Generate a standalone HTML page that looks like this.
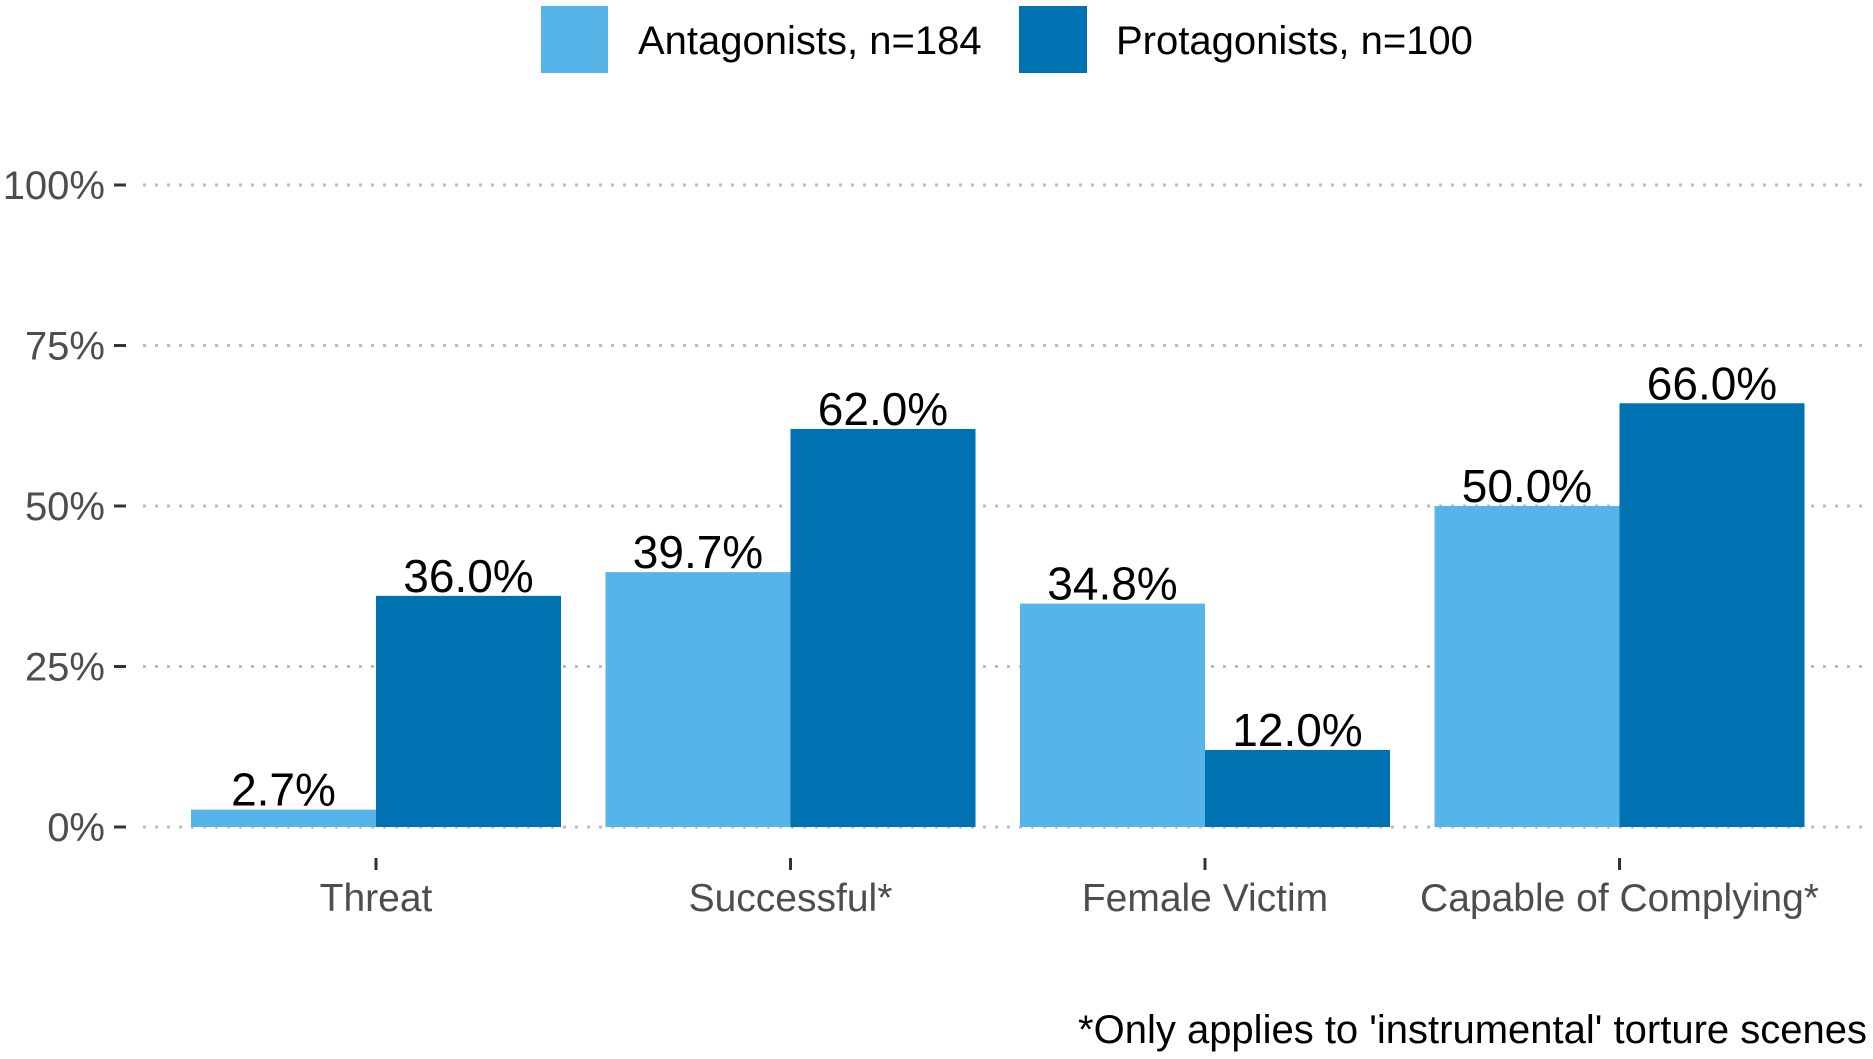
<!DOCTYPE html>
<html><head><meta charset="utf-8"><style>
html,body{margin:0;padding:0;background:#fff;}
svg{display:block;font-family:"Liberation Sans",sans-serif;}
</style></head><body>
<svg id="chart" width="1873" height="1059" viewBox="0 0 1873 1059">
<g>
<rect x="541" y="6" width="67" height="67" fill="#56B4E9"/>
<text x="638" y="54" font-size="40" fill="#000">Antagonists, n=184</text>
<rect x="1019" y="6" width="68" height="67" fill="#0072B2"/>
<text x="1116" y="54" font-size="40" fill="#000">Protagonists, n=100</text>
</g>
<g id="grid"></g>
<g id="yaxis"></g>
<g id="bars"></g>
<g id="xaxis"></g>
<text x="1867" y="1043" font-size="40" text-anchor="end" fill="#000">*Only applies to 'instrumental' torture scenes</text>
</svg>
<script>
const categories = ["Threat","Successful*","Female Victim","Capable of Complying*"];
const antagonists = [2.7, 39.7, 34.8, 50.0];
const protagonists = [36.0, 62.0, 12.0, 66.0];
const yTicks = [0, 25, 50, 75, 100];
const yTickLabels = ["0%","25%","50%","75%","100%"];

const NS = "http://www.w3.org/2000/svg";
const y0 = 827, y100 = 185;
const yScale = v => y0 - (y0 - y100) * v / 100;
const xCenter = i => 376 + i * 414.5;
const barW = 185;
function mk(tag, attrs, parent){const e=document.createElementNS(NS,tag);for(const k in attrs)e.setAttribute(k,attrs[k]);parent.appendChild(e);return e;}
const grid=document.getElementById('grid'), yaxis=document.getElementById('yaxis'), bars=document.getElementById('bars'), xaxis=document.getElementById('xaxis');
yTicks.forEach((t,i)=>{
  const y=yScale(t);
  const g=mk('line',{x1:143,x2:1869,y1:y,y2:y,stroke:'#bdbdbd','stroke-width':3,'stroke-dasharray':'3 9'},grid);
  
  
  const tk=mk('line',{x1:114,x2:126,y1:y,y2:y,stroke:'#333','stroke-width':3},yaxis);
  
  
  const tx=mk('text',{x:105,y:y+14,'font-size':40,'text-anchor':'end',fill:'#4d4d4d'},yaxis);
  tx.textContent=yTickLabels[i];
  
  
});
categories.forEach((c,i)=>{
  const cx=xCenter(i);
  [[antagonists[i],cx-barW,'#56B4E9','antagonists'],[protagonists[i],cx,'#0072B2','protagonists']].forEach(([v,x,col,s])=>{
    const y=yScale(v);
    const r=mk('rect',{x:x,y:y,width:barW,height:y0-y,fill:col},bars);
    
    
    const t=mk('text',{x:x+barW/2,y:y-4,'font-size':46,'text-anchor':'middle',fill:'#000'},bars);
    t.textContent=v.toFixed(1)+'%';
    
    
  });
  const tk=mk('line',{x1:cx,x2:cx,y1:858,y2:870,stroke:'#333','stroke-width':3},xaxis);
  
  
  const tl=mk('text',{x:cx,y:911,'font-size':39,'text-anchor':'middle',fill:'#4d4d4d'},xaxis);
  tl.textContent=c;
  
  
});
</script>
</body></html>
